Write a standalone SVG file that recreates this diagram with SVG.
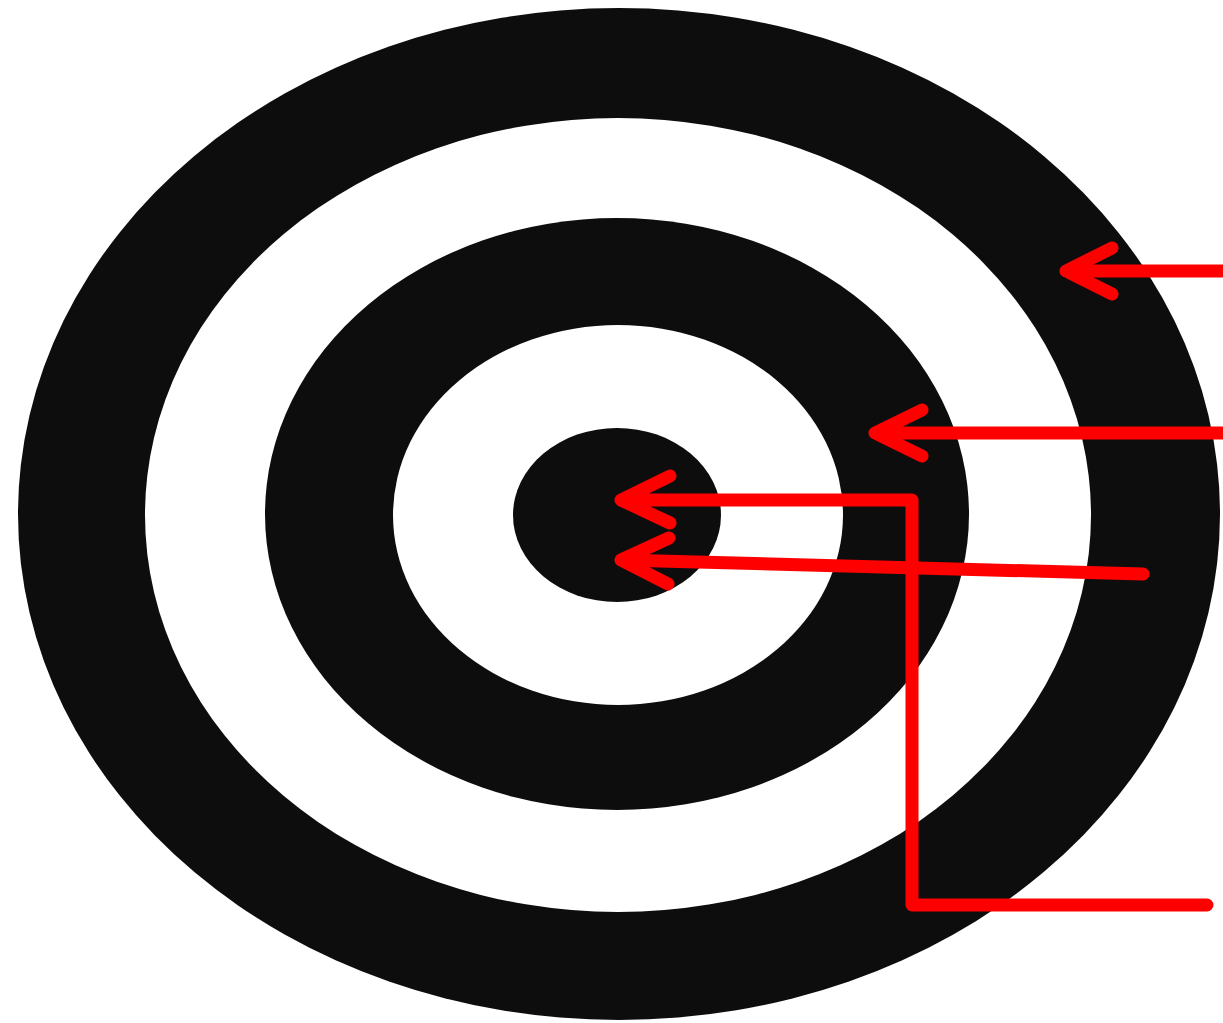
<svg xmlns="http://www.w3.org/2000/svg" width="1223" height="1023" viewBox="0 0 1223 1023">
<style>
.blk{fill:#0d0d0d}
.wht{fill:#ffffff}
.arr{fill:none;stroke:#ff0000;stroke-width:13;stroke-linecap:round;stroke-linejoin:round}
</style>
<rect width="1223" height="1023" fill="#ffffff"/>
<g id="target">
<ellipse id="ring1" class="blk" cx="619" cy="514" rx="601" ry="506"/>
<ellipse id="ring2" class="wht" cx="618" cy="515" rx="473" ry="397"/>
<ellipse id="ring3" class="blk" cx="617" cy="514" rx="352" ry="296"/>
<ellipse id="ring4" class="wht" cx="618" cy="515" rx="225" ry="190"/>
<ellipse id="ring5" class="blk" cx="617" cy="515" rx="104" ry="87"/>
</g>
<g id="connectors">
<path class="arr" d="M1230 271 L1066 271 M1112 248 L1066 271 L1112 294"/>
<path class="arr" d="M1230 433 L875 433 M922 410 L875 433 L922 456"/>
<path class="arr" d="M1207 905 L912 905 L912 500 L621 500 M670 476 L621 500 L670 523"/>
<path class="arr" d="M1143 574 L621 560 M669 538 L621 560 L668 584"/>
</g>
</svg>
